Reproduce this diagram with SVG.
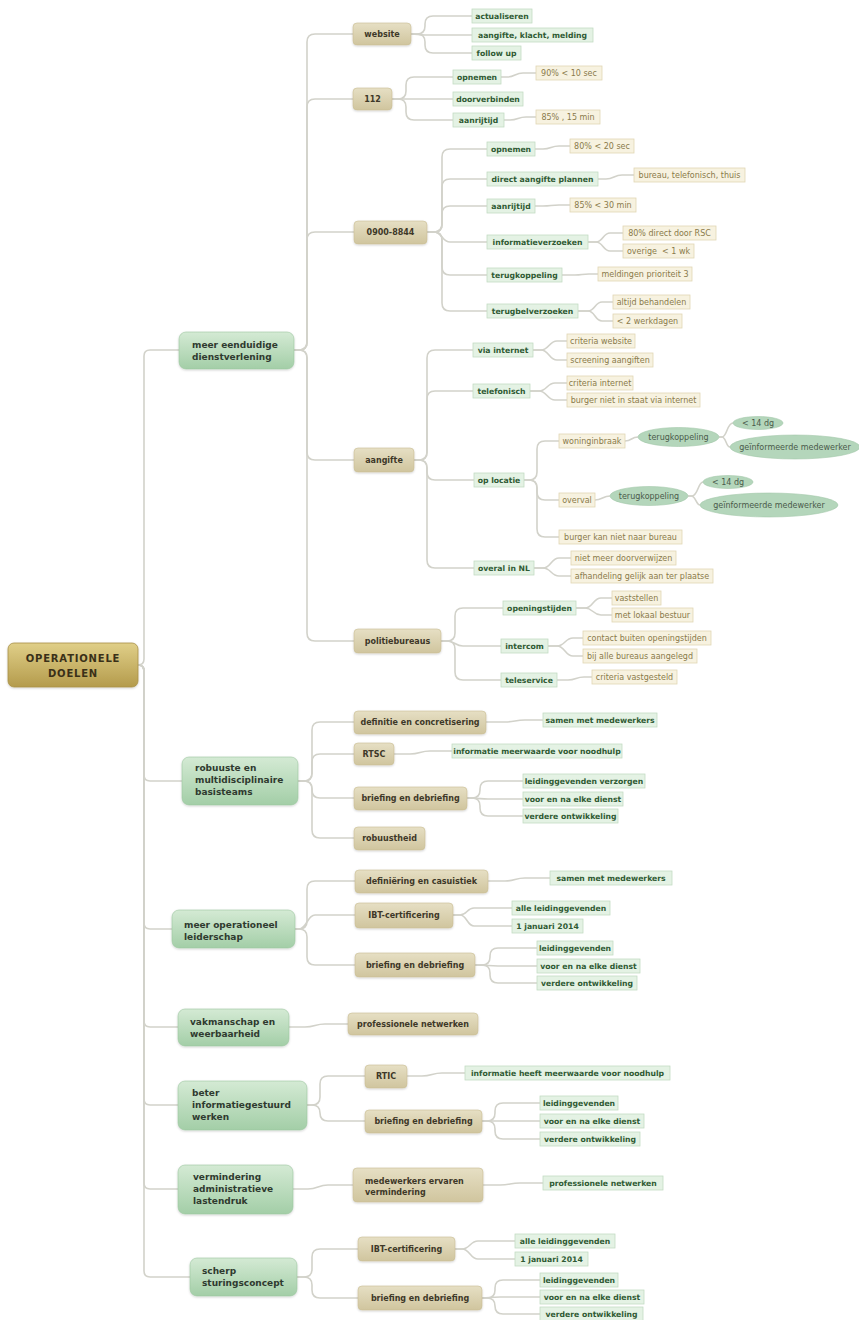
<svg xmlns="http://www.w3.org/2000/svg" width="859" height="1320" viewBox="0 0 859 1320">
<defs>
<linearGradient id="g0" x1="0" y1="0" x2="0" y2="1"><stop offset="0" stop-color="#e0cf88"/><stop offset="1" stop-color="#b49b4c"/></linearGradient>
<linearGradient id="g1" x1="0" y1="0" x2="0" y2="1"><stop offset="0" stop-color="#d4ead4"/><stop offset="1" stop-color="#a3cea7"/></linearGradient>
<linearGradient id="g2" x1="0" y1="0" x2="0" y2="1"><stop offset="0" stop-color="#e6dfc4"/><stop offset="1" stop-color="#d0c59e"/></linearGradient>
<filter id="sh" x="-10%" y="-10%" width="130%" height="140%"><feDropShadow dx="0" dy="1" stdDeviation="1" flood-color="#000" flood-opacity="0.18"/></filter>
</defs>
<style>
.c path{fill:none;stroke:#d2d2ca;stroke-width:1.6}
.n0{fill:url(#g0);stroke:#a89048;stroke-width:0.8;filter:url(#sh)}
.n1{fill:url(#g1);stroke:#9cc6a0;stroke-width:0.6;filter:url(#sh)}
.n2{fill:url(#g2);stroke:#cabd94;stroke-width:0.6;filter:url(#sh)}
.lg{fill:#e4f2e4;stroke:#c4dcc4;stroke-width:0.8}
.lt{fill:#f7f2e0;stroke:#e0d6b4;stroke-width:0.8}
.el{fill:#b4d6bb;stroke:#a2c8a9;stroke-width:0.6}
text{font-family:"DejaVu Sans","Liberation Sans",sans-serif}
.t0{font-size:10px;font-weight:bold;fill:#3a3018;letter-spacing:0.8px;text-anchor:middle}
.t1{font-size:9px;font-weight:bold;fill:#2f3a2f}
.t2{font-size:8px;font-weight:bold;fill:#3e3828;text-anchor:middle}
.t2l{font-size:8px;font-weight:bold;fill:#3e3828}
.tg{font-size:7.7px;font-weight:bold;fill:#2f5a33;text-anchor:middle}
.tt{font-size:8px;fill:#8a7a4a;text-anchor:middle}
.te{font-size:8px;fill:#4a5a4a;text-anchor:middle}
</style>
<rect width="859" height="1320" fill="#ffffff"/>
<g id="connectors" class="c">
<path d="M138 665 Q144 665 144 659 V356 Q144 350 150 350 H179"/>
<path d="M138 665 Q144 665 144 671 V775 Q144 781 150 781 H182"/>
<path d="M138 665 Q144 665 144 671 V923 Q144 929 150 929 H172"/>
<path d="M138 665 Q144 665 144 671 V1021 Q144 1027 150 1027 H178"/>
<path d="M138 665 Q144 665 144 671 V1099 Q144 1105 150 1105 H178"/>
<path d="M138 665 Q144 665 144 671 V1183 Q144 1189 150 1189 H178"/>
<path d="M138 665 Q144 665 144 671 V1271 Q144 1277 150 1277 H190"/>
<path d="M294 350 H299 Q307 350 307 342 V42 Q307 34 315 34 H353"/>
<path d="M294 350 H299 Q307 350 307 342 V107 Q307 99 315 99 H353"/>
<path d="M294 350 H299 Q307 350 307 342 V240 Q307 232 315 232 H354"/>
<path d="M294 350 H299 Q307 350 307 358 V452 Q307 460 315 460 H354"/>
<path d="M294 350 H299 Q307 350 307 358 V633 Q307 641 315 641 H354"/>
<path d="M411 34 H417 Q425 34 425 26 V24 Q425 16 433 16 H472"/>
<path d="M411 34 C418 34 418 35 425 35 H472"/>
<path d="M411 34 H417 Q425 34 425 42 V45 Q425 53 433 53 H472"/>
<path d="M392 99 H398 Q406 99 406 91 V85 Q406 77 414 77 H453"/>
<path d="M392 99 H453"/>
<path d="M392 99 H398 Q406 99 406 107 V112 Q406 120 414 120 H453"/>
<path d="M501 77 H507 C515 77 515 73 523 73 H536"/>
<path d="M504 120 H510 C518 120 518 117 526 117 H536"/>
<path d="M427 232 H434 Q442 232 442 224 V157 Q442 149 450 149 H487"/>
<path d="M427 232 H434 Q442 232 442 224 V187 Q442 179 450 179 H487"/>
<path d="M427 232 H434 Q442 232 442 224 V214 Q442 206 450 206 H487"/>
<path d="M427 232 H434 C442 232 442 242 450 242 H487"/>
<path d="M427 232 H434 Q442 232 442 240 V267 Q442 275 450 275 H487"/>
<path d="M427 232 H434 Q442 232 442 240 V303 Q442 311 450 311 H487"/>
<path d="M535 149 H543 C551 149 551 146 559 146 H570"/>
<path d="M598 179 H606 C614 179 614 175 622 175 H634"/>
<path d="M535 206 H543 C551 206 551 205 559 205 H570"/>
<path d="M588 242 H596 C603 242 603 233 610 233 H623"/>
<path d="M588 242 H596 C603 242 603 251 610 251 H623"/>
<path d="M562 275 H575 C582 275 582 274 589 274 H598"/>
<path d="M578 311 H588 C595 311 595 302 602 302 H613"/>
<path d="M578 311 H588 C595 311 595 321 602 321 H613"/>
<path d="M414 460 H419 Q427 460 427 452 V358 Q427 350 435 350 H473"/>
<path d="M414 460 H419 Q427 460 427 452 V399 Q427 391 435 391 H473"/>
<path d="M414 460 H419 Q427 460 427 468 V472 Q427 480 435 480 H474"/>
<path d="M414 460 H419 Q427 460 427 468 V560 Q427 568 435 568 H474"/>
<path d="M533 350 H541 C549 350 549 341 557 341 H567"/>
<path d="M533 350 H541 C549 350 549 360 557 360 H567"/>
<path d="M530 391 H539 C547 391 547 383 555 383 H567"/>
<path d="M530 391 H539 C547 391 547 400 555 400 H567"/>
<path d="M524 480 H529 Q537 480 537 472 V449 Q537 441 545 441 H559"/>
<path d="M524 480 H529 Q537 480 537 488 V492 Q537 500 545 500 H559"/>
<path d="M524 480 H529 Q537 480 537 488 V529 Q537 537 545 537 H559"/>
<path d="M625 441 C632 441 631 437 638 437"/>
<path d="M719 437 H722 C727 437 727 423 733 423"/>
<path d="M719 437 H722 C726 437 726 447 730 447"/>
<path d="M595 500 C602 500 603 496 610 496"/>
<path d="M688 496 H692 C698 496 698 482 703 482"/>
<path d="M688 496 H691 C696 496 696 505 700 505"/>
<path d="M534 568 H543 C551 568 551 558 559 558 H571"/>
<path d="M534 568 H543 C551 568 551 576 559 576 H571"/>
<path d="M441 641 H447 Q455 641 455 633 V616 Q455 608 463 608 H503"/>
<path d="M441 641 H447 C455 641 455 646 463 646 H501"/>
<path d="M441 641 H447 Q455 641 455 649 V672 Q455 680 463 680 H501"/>
<path d="M576 608 H585 C593 608 593 598 601 598 H612"/>
<path d="M576 608 H585 C593 608 593 615 601 615 H612"/>
<path d="M548 646 H557 C565 646 565 638 573 638 H583"/>
<path d="M548 646 H557 C565 646 565 656 573 656 H583"/>
<path d="M557 680 H568 C576 680 576 677 584 677 H592"/>
<path d="M298 781 H304 Q312 781 312 773 V730 Q312 722 320 722 H354"/>
<path d="M298 781 H304 Q312 781 312 773 V762 Q312 754 320 754 H354"/>
<path d="M298 781 H304 Q312 781 312 789 V790 Q312 798 320 798 H354"/>
<path d="M298 781 H304 Q312 781 312 789 V830 Q312 838 320 838 H354"/>
<path d="M486 722 H505 C515 722 515 720 525 720 H543"/>
<path d="M394 754 H410 C420 754 420 751 430 751 H452"/>
<path d="M467 798 H472 Q480 798 480 790 V789 Q480 781 488 781 H523"/>
<path d="M467 798 C480 798 480 799 488 799 H523"/>
<path d="M467 798 H472 Q480 798 480 806 V808 Q480 816 488 816 H523"/>
<path d="M295 929 H299 Q307 929 307 921 V889 Q307 881 315 881 H355"/>
<path d="M295 929 H299 C307 929 307 915 315 915 H355"/>
<path d="M295 929 H299 Q307 929 307 937 V957 Q307 965 315 965 H355"/>
<path d="M488 881 H505 C515 881 515 878 525 878 H550"/>
<path d="M453 915 H460 C467 915 467 908 474 908 H512"/>
<path d="M453 915 H460 C467 915 467 926 474 926 H512"/>
<path d="M475 965 H482 Q490 965 490 957 V956 Q490 948 498 948 H537"/>
<path d="M475 965 C488 965 488 966 498 966 H537"/>
<path d="M475 965 H482 Q490 965 490 973 V975 Q490 983 498 983 H537"/>
<path d="M289 1027 H305 C315 1027 315 1024 325 1024 H348"/>
<path d="M307 1105 H312 Q320 1105 320 1097 V1084 Q320 1076 328 1076 H365"/>
<path d="M307 1105 H312 Q320 1105 320 1113 Q320 1121 328 1121 H365"/>
<path d="M407 1076 H422 C432 1076 432 1073 442 1073 H465"/>
<path d="M482 1121 H487 Q495 1121 495 1113 V1111 Q495 1103 503 1103 H540"/>
<path d="M482 1121 H540"/>
<path d="M482 1121 H487 Q495 1121 495 1129 V1131 Q495 1139 503 1139 H540"/>
<path d="M293 1189 H308 C318 1189 318 1185 328 1185 H353"/>
<path d="M483 1185 H500 C510 1185 510 1183 520 1183 H543"/>
<path d="M297 1277 H304 Q312 1277 312 1269 V1257 Q312 1249 320 1249 H358"/>
<path d="M297 1277 H304 Q312 1277 312 1285 V1290 Q312 1298 320 1298 H358"/>
<path d="M455 1249 H462 C470 1249 470 1241 478 1241 H515"/>
<path d="M455 1249 H462 C470 1249 470 1259 478 1259 H515"/>
<path d="M482 1298 H487 Q495 1298 495 1290 V1288 Q495 1280 503 1280 H540"/>
<path d="M482 1298 C490 1298 490 1297 500 1297 H540"/>
<path d="M482 1298 H487 Q495 1298 495 1306 Q495 1314 503 1314 H540"/>
</g>

<g id="root"><rect class="n0" x="8" y="643" width="130" height="44" rx="6"/><text class="t0" x="73" y="662">OPERATIONELE</text><text class="t0" x="73" y="677">DOELEN</text></g>

<g id="n1"><rect class="n1" x="179" y="332" width="115" height="37" rx="7"/><text class="t1" x="192" y="348">meer eenduidige</text><text class="t1" x="192" y="360">dienstverlening</text></g>
<g id="n2"><rect class="n1" x="182" y="757" width="116" height="48" rx="7"/><text class="t1" x="195" y="771">robuuste en</text><text class="t1" x="195" y="783">multidisciplinaire</text><text class="t1" x="195" y="795">basisteams</text></g>
<g id="n3"><rect class="n1" x="172" y="910" width="123" height="38" rx="7"/><text class="t1" x="184" y="928">meer operationeel</text><text class="t1" x="184" y="940">leiderschap</text></g>
<g id="n4"><rect class="n1" x="178" y="1009" width="111" height="37" rx="7"/><text class="t1" x="190" y="1025">vakmanschap en</text><text class="t1" x="190" y="1037">weerbaarheid</text></g>
<g id="n5"><rect class="n1" x="178" y="1081" width="129" height="49" rx="7"/><text class="t1" x="192" y="1096">beter</text><text class="t1" x="192" y="1108">informatiegestuurd</text><text class="t1" x="192" y="1120">werken</text></g>
<g id="n6"><rect class="n1" x="178" y="1165" width="115" height="49" rx="7"/><text class="t1" x="193" y="1180">vermindering</text><text class="t1" x="193" y="1192">administratieve</text><text class="t1" x="193" y="1204">lastendruk</text></g>
<g id="n7"><rect class="n1" x="190" y="1258" width="107" height="38" rx="7"/><text class="t1" x="202" y="1274">scherp</text><text class="t1" x="202" y="1286">sturingsconcept</text></g>

<g id="website"><rect class="n2" x="353" y="23" width="58" height="22" rx="4"/><text class="t2" x="382" y="37">website</text></g>
<g id="n112"><rect class="n2" x="353" y="88" width="39" height="22" rx="4"/><text class="t2" x="372.5" y="102">112</text></g>
<g id="n0900"><rect class="n2" x="354" y="221" width="73" height="23" rx="4"/><text class="t2" x="390.5" y="235">0900-8844</text></g>
<g id="aangifte"><rect class="n2" x="354" y="448" width="60" height="24" rx="4"/><text class="t2" x="384" y="463">aangifte</text></g>
<g id="politiebureaus"><rect class="n2" x="354" y="629" width="87" height="24" rx="4"/><text class="t2" x="397.5" y="644">politiebureaus</text></g>
<g id="definitie"><rect class="n2" x="354" y="711" width="132" height="23" rx="4"/><text class="t2" x="420" y="725">definitie en concretisering</text></g>
<g id="rtsc"><rect class="n2" x="354" y="743" width="40" height="22" rx="4"/><text class="t2" x="374" y="757">RTSC</text></g>
<g id="briefing1"><rect class="n2" x="354" y="787" width="113" height="23" rx="4"/><text class="t2" x="410.5" y="801">briefing en debriefing</text></g>
<g id="robuustheid"><rect class="n2" x="354" y="827" width="71" height="23" rx="4"/><text class="t2" x="389.5" y="841">robuustheid</text></g>
<g id="definiering"><rect class="n2" x="355" y="870" width="133" height="23" rx="4"/><text class="t2" x="421.5" y="884">definiëring en casuistiek</text></g>
<g id="ibt1"><rect class="n2" x="355" y="903" width="98" height="25" rx="4"/><text class="t2" x="404" y="918">IBT-certificering</text></g>
<g id="briefing2"><rect class="n2" x="355" y="953" width="120" height="24" rx="4"/><text class="t2" x="415" y="968">briefing en debriefing</text></g>
<g id="profnet1"><rect class="n2" x="348" y="1013" width="130" height="22" rx="4"/><text class="t2" x="413" y="1027">professionele netwerken</text></g>
<g id="rtic"><rect class="n2" x="365" y="1065" width="42" height="23" rx="4"/><text class="t2" x="386" y="1079">RTIC</text></g>
<g id="briefing3"><rect class="n2" x="365" y="1110" width="117" height="23" rx="4"/><text class="t2" x="423.5" y="1124">briefing en debriefing</text></g>
<g id="medewerkers"><rect class="n2" x="353" y="1168" width="130" height="34" rx="4"/><text class="t2l" x="365" y="1184">medewerkers ervaren</text><text class="t2l" x="365" y="1195">vermindering</text></g>
<g id="ibt2"><rect class="n2" x="358" y="1237" width="97" height="24" rx="4"/><text class="t2" x="406.5" y="1252">IBT-certificering</text></g>
<g id="briefing4"><rect class="n2" x="358" y="1286" width="124" height="24" rx="4"/><text class="t2" x="420" y="1301">briefing en debriefing</text></g>

<g id="leaves-green">
<g id="g01"><rect class="lg" x="472" y="9" width="60" height="14"/><text class="tg" x="502" y="19">actualiseren</text></g>
<g id="g02"><rect class="lg" x="472" y="28" width="121" height="14"/><text class="tg" x="532.5" y="38">aangifte, klacht, melding</text></g>
<g id="g03"><rect class="lg" x="472" y="46" width="49" height="14"/><text class="tg" x="496.5" y="56">follow up</text></g>
<g id="g04"><rect class="lg" x="453" y="70" width="48" height="14"/><text class="tg" x="477" y="80">opnemen</text></g>
<g id="g05"><rect class="lg" x="453" y="92" width="70" height="14"/><text class="tg" x="488" y="102">doorverbinden</text></g>
<g id="g06"><rect class="lg" x="453" y="113" width="51" height="14"/><text class="tg" x="478.5" y="123">aanrijtijd</text></g>
<g id="g07"><rect class="lg" x="487" y="142" width="48" height="14"/><text class="tg" x="511" y="152">opnemen</text></g>
<g id="g08"><rect class="lg" x="487" y="172" width="111" height="14"/><text class="tg" x="542.5" y="182">direct aangifte plannen</text></g>
<g id="g09"><rect class="lg" x="487" y="199" width="48" height="14"/><text class="tg" x="511" y="209">aanrijtijd</text></g>
<g id="g10"><rect class="lg" x="487" y="235" width="101" height="14"/><text class="tg" x="537.5" y="245">informatieverzoeken</text></g>
<g id="g11"><rect class="lg" x="487" y="268" width="75" height="14"/><text class="tg" x="524.5" y="278">terugkoppeling</text></g>
<g id="g12"><rect class="lg" x="487" y="304" width="91" height="14"/><text class="tg" x="532.5" y="314">terugbelverzoeken</text></g>
<g id="g13"><rect class="lg" x="473" y="343" width="60" height="14"/><text class="tg" x="503" y="353">via internet</text></g>
<g id="g14"><rect class="lg" x="473" y="384" width="57" height="14"/><text class="tg" x="501.5" y="394">telefonisch</text></g>
<g id="g15"><rect class="lg" x="474" y="473" width="50" height="14"/><text class="tg" x="499" y="483">op locatie</text></g>
<g id="g16"><rect class="lg" x="474" y="561" width="60" height="14"/><text class="tg" x="504" y="571">overal in NL</text></g>
<g id="g17"><rect class="lg" x="503" y="601" width="73" height="14"/><text class="tg" x="539.5" y="611">openingstijden</text></g>
<g id="g18"><rect class="lg" x="501" y="639" width="47" height="14"/><text class="tg" x="524.5" y="649">intercom</text></g>
<g id="g19"><rect class="lg" x="501" y="673" width="56" height="14"/><text class="tg" x="529" y="683">teleservice</text></g>
<g id="g20"><rect class="lg" x="543" y="713" width="114" height="14"/><text class="tg" x="600" y="723">samen met medewerkers</text></g>
<g id="g21"><rect class="lg" x="452" y="744" width="170" height="14"/><text class="tg" x="537" y="754">informatie meerwaarde voor noodhulp</text></g>
<g id="g22"><rect class="lg" x="523" y="774" width="122" height="14"/><text class="tg" x="584" y="784">leidinggevenden verzorgen</text></g>
<g id="g23"><rect class="lg" x="523" y="792" width="100" height="14"/><text class="tg" x="573" y="802">voor en na elke dienst</text></g>
<g id="g24"><rect class="lg" x="523" y="809" width="95" height="14"/><text class="tg" x="570.5" y="819">verdere ontwikkeling</text></g>
<g id="g25"><rect class="lg" x="550" y="871" width="122" height="14"/><text class="tg" x="611" y="881">samen met medewerkers</text></g>
<g id="g26"><rect class="lg" x="512" y="901" width="98" height="14"/><text class="tg" x="561" y="911">alle leidinggevenden</text></g>
<g id="g27"><rect class="lg" x="512" y="919" width="71" height="14"/><text class="tg" x="547.5" y="929">1 januari 2014</text></g>
<g id="g28"><rect class="lg" x="537" y="941" width="76" height="14"/><text class="tg" x="575" y="951">leidinggevenden</text></g>
<g id="g29"><rect class="lg" x="537" y="959" width="103" height="14"/><text class="tg" x="588.5" y="969">voor en na elke dienst</text></g>
<g id="g30"><rect class="lg" x="537" y="976" width="100" height="14"/><text class="tg" x="587" y="986">verdere ontwikkeling</text></g>
<g id="g31"><rect class="lg" x="465" y="1066" width="205" height="14"/><text class="tg" x="567.5" y="1076">informatie heeft meerwaarde voor noodhulp</text></g>
<g id="g32"><rect class="lg" x="540" y="1096" width="78" height="14"/><text class="tg" x="579" y="1106">leidinggevenden</text></g>
<g id="g33"><rect class="lg" x="540" y="1114" width="104" height="14"/><text class="tg" x="592" y="1124">voor en na elke dienst</text></g>
<g id="g34"><rect class="lg" x="540" y="1132" width="100" height="14"/><text class="tg" x="590" y="1142">verdere ontwikkeling</text></g>
<g id="g35"><rect class="lg" x="543" y="1176" width="120" height="14"/><text class="tg" x="603" y="1186">professionele netwerken</text></g>
<g id="g36"><rect class="lg" x="515" y="1234" width="100" height="14"/><text class="tg" x="565" y="1244">alle leidinggevenden</text></g>
<g id="g37"><rect class="lg" x="515" y="1252" width="73" height="14"/><text class="tg" x="551.5" y="1262">1 januari 2014</text></g>
<g id="g38"><rect class="lg" x="540" y="1273" width="78" height="14"/><text class="tg" x="579" y="1283">leidinggevenden</text></g>
<g id="g39"><rect class="lg" x="540" y="1290" width="104" height="14"/><text class="tg" x="592" y="1300">voor en na elke dienst</text></g>
<g id="g40"><rect class="lg" x="540" y="1307" width="103" height="14"/><text class="tg" x="591.5" y="1317">verdere ontwikkeling</text></g>
</g>

<g id="leaves-tan">
<g id="t01"><rect class="lt" x="536" y="66" width="66" height="14"/><text class="tt" x="569" y="76">90% &lt; 10 sec</text></g>
<g id="t02"><rect class="lt" x="536" y="110" width="64" height="14"/><text class="tt" x="568" y="120">85% , 15 min</text></g>
<g id="t03"><rect class="lt" x="570" y="139" width="64" height="14"/><text class="tt" x="602" y="149">80% &lt; 20 sec</text></g>
<g id="t04"><rect class="lt" x="634" y="168" width="111" height="14"/><text class="tt" x="689.5" y="178">bureau, telefonisch, thuis</text></g>
<g id="t05"><rect class="lt" x="570" y="198" width="66" height="14"/><text class="tt" x="603" y="208">85% &lt; 30 min</text></g>
<g id="t06"><rect class="lt" x="623" y="226" width="93" height="14"/><text class="tt" x="669.5" y="236">80% direct door RSC</text></g>
<g id="t07"><rect class="lt" x="623" y="244" width="71" height="14"/><text class="tt" x="658.5" y="254" xml:space="preserve">overige  &lt; 1 wk</text></g>
<g id="t08"><rect class="lt" x="598" y="267" width="94" height="14"/><text class="tt" x="645" y="277">meldingen prioriteit 3</text></g>
<g id="t09"><rect class="lt" x="613" y="295" width="77" height="14"/><text class="tt" x="651.5" y="305">altijd behandelen</text></g>
<g id="t10"><rect class="lt" x="613" y="314" width="69" height="14"/><text class="tt" x="647.5" y="324">&lt; 2 werkdagen</text></g>
<g id="t11"><rect class="lt" x="567" y="334" width="68" height="14"/><text class="tt" x="601" y="344">criteria website</text></g>
<g id="t12"><rect class="lt" x="567" y="353" width="86" height="14"/><text class="tt" x="610" y="363">screening aangiften</text></g>
<g id="t13"><rect class="lt" x="567" y="376" width="66" height="14"/><text class="tt" x="600" y="386">criteria internet</text></g>
<g id="t14"><rect class="lt" x="567" y="393" width="133" height="14"/><text class="tt" x="633.5" y="403">burger niet in staat via internet</text></g>
<g id="t15"><rect class="lt" x="559" y="434" width="66" height="14"/><text class="tt" x="592" y="444">woninginbraak</text></g>
<g id="t16"><rect class="lt" x="559" y="493" width="36" height="14"/><text class="tt" x="577" y="503">overval</text></g>
<g id="t17"><rect class="lt" x="559" y="530" width="123" height="14"/><text class="tt" x="620.5" y="540">burger kan niet naar bureau</text></g>
<g id="t18"><rect class="lt" x="571" y="551" width="105" height="14"/><text class="tt" x="623.5" y="561">niet meer doorverwijzen</text></g>
<g id="t19"><rect class="lt" x="571" y="569" width="142" height="14"/><text class="tt" x="642" y="579">afhandeling gelijk aan ter plaatse</text></g>
<g id="t20"><rect class="lt" x="612" y="591" width="49" height="14"/><text class="tt" x="636.5" y="601">vaststellen</text></g>
<g id="t21"><rect class="lt" x="612" y="608" width="81" height="14"/><text class="tt" x="652.5" y="618">met lokaal bestuur</text></g>
<g id="t22"><rect class="lt" x="583" y="631" width="128" height="14"/><text class="tt" x="647" y="641">contact buiten openingstijden</text></g>
<g id="t23"><rect class="lt" x="583" y="649" width="114" height="14"/><text class="tt" x="640" y="659">bij alle bureaus aangelegd</text></g>
<g id="t24"><rect class="lt" x="592" y="670" width="85" height="14"/><text class="tt" x="634.5" y="680">criteria vastgesteld</text></g>
</g>

<g id="ellipses">
<g id="e1"><ellipse class="el" cx="678.5" cy="437" rx="40.5" ry="9.5"/><text class="te" x="678.5" y="440">terugkoppeling</text></g>
<g id="e1a"><ellipse class="el" cx="758" cy="423" rx="25" ry="6.5"/><text class="te" x="758" y="426">&lt; 14 dg</text></g>
<g id="e1b"><ellipse class="el" cx="795" cy="447" rx="65" ry="12"/><text class="te" x="795" y="450">geïnformeerde medewerker</text></g>
<g id="e2"><ellipse class="el" cx="649" cy="496" rx="39" ry="9.5"/><text class="te" x="649" y="499">terugkoppeling</text></g>
<g id="e2a"><ellipse class="el" cx="728" cy="482" rx="25" ry="6.5"/><text class="te" x="728" y="485">&lt; 14 dg</text></g>
<g id="e2b"><ellipse class="el" cx="769" cy="505" rx="69" ry="12"/><text class="te" x="769" y="508">geïnformeerde medewerker</text></g>
</g>
</svg>
